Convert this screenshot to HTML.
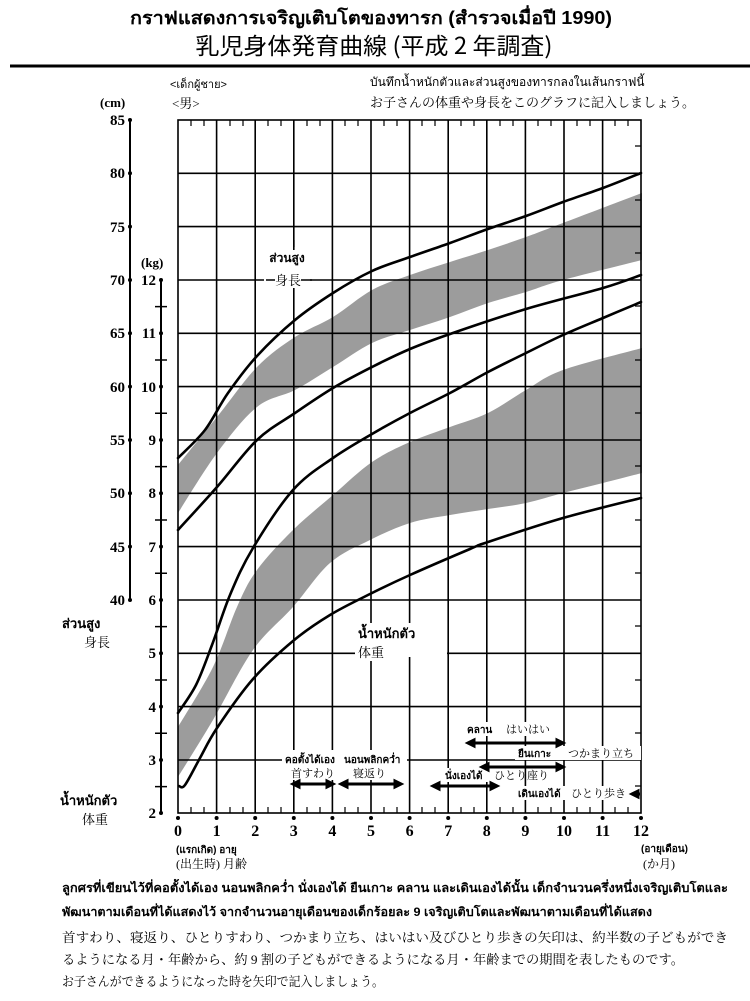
<!DOCTYPE html>
<html><head><meta charset="utf-8"><style>
body{margin:0;background:#fff;width:750px;height:1001px;overflow:hidden}
svg{display:block}
.th{font-family:"Liberation Sans","Noto Sans CJK JP",sans-serif}
.jp{font-family:"Liberation Serif","Noto Serif CJK SC",serif}
</style></head><body>
<svg id="cv" width="750" height="1001" viewBox="0 0 750 1001" xmlns="http://www.w3.org/2000/svg">
<text x="371" y="24" text-anchor="middle" class="th" font-size="18" font-weight="bold" textLength="482" lengthAdjust="spacingAndGlyphs">กราฟแสดงการเจริญเติบโตของทารก (สำรวจเมื่อปี 1990)</text>
<text x="374" y="54" text-anchor="middle" font-family="Noto Sans CJK JP,sans-serif" font-size="23" textLength="357" lengthAdjust="spacingAndGlyphs">乳児身体発育曲線 (平成 2 年調査)</text>
<line x1="10" y1="66" x2="750" y2="66" stroke="#000" stroke-width="3"/>
<text x="170" y="88" class="th" font-size="11">&lt;เด็กผู้ชาย&gt;</text>
<text x="172" y="108" class="jp" font-size="13">&lt;男&gt;</text>
<text x="370" y="86" class="th" font-size="12">บันทึกน้ำหนักตัวและส่วนสูงของทารกลงในเส้นกราฟนี้</text>
<text x="370" y="107" class="jp" font-size="13">お子さんの体重や身長をこのグラフに記入しましょう。</text>
<text x="100" y="107" class="jp" font-size="13" font-weight="bold">(cm)</text>
<text x="141" y="267" class="jp" font-size="13" font-weight="bold">(kg)</text>

<!-- bands -->
<polygon class="s" fill="#9c9c9c" points="178,465 217,417 257,367 295,337 333,317 372,290 410,275 450,262 488,250 526,237 563,223 642,193 642,260 563,280 526,292 488,303 450,317 410,330 372,343 333,367 295,390 257,407 217,453 178,513"/>
<polygon class="s" fill="#9c9c9c" points="178,727 213,667 237,607 257,570 293,530 333,495 372,462 410,442 450,427 488,413 526,390 563,370 642,348 642,473 603,483 563,493 526,503 488,509 450,515 410,523 370,540 330,563 293,607 253,650 213,720 178,777"/>

<!-- grid -->
<g stroke="#000" stroke-width="1.6" fill="none">
<rect x="178" y="120" width="463" height="693"/>
<path d="M216.6 120V813M255.2 120V813M293.8 120V813M332.4 120V813M371 120V813M409.6 120V813M448.2 120V813M486.8 120V813M525.4 120V813M564 120V813M602.6 120V813"/>
<path d="M178 173.3H641M178 226.6H641M178 280H641M178 333.3H641M178 386.6H641M178 440H641M178 493.3H641M178 546.6H641M178 600H641M178 653.3H641M178 706.6H641M178 760H641"/>
</g>
<g stroke="#000" stroke-width="1.2">
<path d="M191 120v6M204 120v6M230 120v6M243 120v6M268 120v6M281 120v6M307 120v6M320 120v6M345 120v6M358 120v6M384 120v6M397 120v6M422 120v6M435 120v6M461 120v6M474 120v6M500 120v6M513 120v6M538 120v6M551 120v6M577 120v6M590 120v6M615 120v6M628 120v6"/>
<path d="M191 813v-6M204 813v-6M230 813v-6M243 813v-6M268 813v-6M281 813v-6M307 813v-6M320 813v-6M345 813v-6M358 813v-6M384 813v-6M397 813v-6M422 813v-6M435 813v-6M461 813v-6M474 813v-6M500 813v-6M513 813v-6M538 813v-6M551 813v-6M577 813v-6M590 813v-6M615 813v-6M628 813v-6"/>
<path d="M641 146h-6M641 200h-6M641 253h-6M641 306h-6M641 360h-6M641 413h-6M641 466h-6M641 520h-6M641 573h-6M641 626h-6M641 680h-6M641 733h-6M641 786h-6"/>
</g>

<!-- curves -->
<g stroke="#000" stroke-width="2.6" fill="none" stroke-linejoin="round" stroke-linecap="round">
<polyline class="s" points="178,458 205,430 228,393 257,356 295,320 333,293 372,271 410,257 450,243 488,229 526,216 563,202 603,188 641,173"/>
<polyline class="s" points="178,530 217,487 257,440 295,413 333,388 372,367 410,349 450,334 526,309 603,288 641,275"/>
<polyline class="s" points="178,713 196,685 212,645 230,595 253,548 293,490 333,458 372,434 410,413 450,393 488,372 526,353 563,335 603,318 641,302"/>
<polyline class="s" points="179,786 185,785 200,758 217,728 253,679 293,641 330,615 370,594 410,575 470,549 488,542 563,518 641,498"/>
</g>

<!-- curve labels -->
<rect x="264" y="247" width="46" height="38" fill="#fff"/>
<line x1="293.8" y1="240" x2="293.8" y2="250" stroke="#000" stroke-width="1.6"/>
<text x="287" y="262" text-anchor="middle" class="th" font-size="12" font-weight="bold">ส่วนสูง</text>
<line x1="266" y1="280" x2="312" y2="280" stroke="#000" stroke-width="1.6"/>
<rect x="275" y="272" width="26" height="16" fill="#fff"/>
<text x="288" y="285" text-anchor="middle" class="jp" font-size="13">身長</text>

<rect x="355" y="623" width="92" height="34" fill="#fff"/>
<text x="358" y="638" class="th" font-size="13" font-weight="bold">น้ำหนักตัว</text>
<rect x="358" y="645" width="40" height="16" fill="#fff"/>
<text x="358" y="657" class="jp" font-size="13">体重</text>

<!-- milestones -->
<g fill="#fff">
<rect x="282" y="750" width="125" height="30"/>
<rect x="432" y="768" width="64" height="14"/>
<rect x="465" y="722" width="90" height="14"/>
<rect x="515" y="746" width="126" height="14"/>
<rect x="515" y="786" width="120" height="14"/>
</g>
<g class="th" font-size="10" font-weight="bold">
<text x="285" y="763">คอตั้งได้เอง</text>
<text x="344" y="763">นอนพลิกคว่ำ</text>
<text x="445" y="779">นั่งเองได้</text>
<text x="467" y="733">คลาน</text>
<text x="518" y="757">ยืนเกาะ</text>
<text x="518" y="797">เดินเองได้</text>
</g>
<g class="jp" font-size="11">
<text x="291" y="777">首すわり</text>
<text x="353" y="777">寝返り</text>
<text x="494" y="779">ひとり座り</text>
<text x="506" y="733">はいはい</text>
<text x="568" y="757">つかまり立ち</text>
<text x="571" y="797">ひとり歩き</text>
</g>
<g stroke="#000" stroke-width="3" fill="#000">
<line x1="297" y1="784" x2="329" y2="784"/><path d="M293 784l6-3v6zM333 784l-6-3v6z"/>
<line x1="345" y1="784" x2="397" y2="784"/><path d="M341 784l6-3v6zM401 784l-6-3v6z"/>
<line x1="437" y1="786" x2="493" y2="786"/><path d="M433 786l6-3v6zM497 786l-6-3v6z"/>
<line x1="472" y1="743" x2="559" y2="743"/><path d="M468 743l6-3v6zM563 743l-6-3v6z"/>
<line x1="486" y1="767" x2="559" y2="767"/><path d="M482 767l6-3v6zM563 767l-6-3v6z"/>
<line x1="634" y1="794" x2="640" y2="794"/><path d="M632 794l6-3v6z"/>
</g>

<!-- left axes -->
<g stroke="#000" stroke-width="2">
<line x1="130" y1="120" x2="130" y2="600"/>
<line x1="161" y1="280" x2="161" y2="813"/>
<path d="M155 306.6h12M155 360h12M155 413.3h12M155 466.6h12M155 520h12M155 573.3h12M155 626.6h12M155 680h12M155 733.3h12M155 786.6h12" stroke-width="1.5"/>
</g>
<g fill="#000">
<circle cx="130" cy="120" r="2"/><circle cx="130" cy="173.3" r="2"/><circle cx="130" cy="226.6" r="2"/><circle cx="130" cy="280" r="2"/><circle cx="130" cy="333.3" r="2"/><circle cx="130" cy="386.6" r="2"/><circle cx="130" cy="440" r="2"/><circle cx="130" cy="493.3" r="2"/><circle cx="130" cy="546.6" r="2"/><circle cx="130" cy="600" r="2"/>
<circle cx="161" cy="280" r="2"/><circle cx="161" cy="333.3" r="2"/><circle cx="161" cy="386.6" r="2"/><circle cx="161" cy="440" r="2"/><circle cx="161" cy="493.3" r="2"/><circle cx="161" cy="546.6" r="2"/><circle cx="161" cy="600" r="2"/><circle cx="161" cy="653.3" r="2"/><circle cx="161" cy="706.6" r="2"/><circle cx="161" cy="760" r="2"/><circle cx="161" cy="813" r="2"/>
</g>
<g class="jp" font-size="15" font-weight="bold" text-anchor="end">
<text x="125" y="125">85</text><text x="125" y="178">80</text><text x="125" y="232">75</text><text x="125" y="285">70</text><text x="125" y="338">65</text><text x="125" y="392">60</text><text x="125" y="445">55</text><text x="125" y="498">50</text><text x="125" y="552">45</text><text x="125" y="605">40</text>
<text x="156" y="285">12</text><text x="156" y="338">11</text><text x="156" y="392">10</text><text x="156" y="445">9</text><text x="156" y="498">8</text><text x="156" y="552">7</text><text x="156" y="605">6</text><text x="156" y="658">5</text><text x="156" y="712">4</text><text x="156" y="765">3</text><text x="156" y="818">2</text>
</g>
<text x="62" y="628" class="th" font-size="13" font-weight="bold">ส่วนสูง</text>
<text x="84" y="647" class="jp" font-size="13">身長</text>
<text x="60" y="805" class="th" font-size="13" font-weight="bold">น้ำหนักตัว</text>
<text x="82" y="824" class="jp" font-size="13">体重</text>

<!-- month axis -->
<g fill="#000">
<circle cx="178" cy="818" r="2"/><circle cx="216.6" cy="818" r="2"/><circle cx="255.2" cy="818" r="2"/><circle cx="293.8" cy="818" r="2"/><circle cx="332.4" cy="818" r="2"/><circle cx="371" cy="818" r="2"/><circle cx="409.6" cy="818" r="2"/><circle cx="448.2" cy="818" r="2"/><circle cx="486.8" cy="818" r="2"/><circle cx="525.4" cy="818" r="2"/><circle cx="564" cy="818" r="2"/><circle cx="602.6" cy="818" r="2"/><circle cx="641" cy="818" r="2"/>
</g>
<g class="jp" font-size="16" font-weight="bold" text-anchor="middle">
<text x="178" y="836">0</text><text x="216.6" y="836">1</text><text x="255.2" y="836">2</text><text x="293.8" y="836">3</text><text x="332.4" y="836">4</text><text x="371" y="836">5</text><text x="409.6" y="836">6</text><text x="448.2" y="836">7</text><text x="486.8" y="836">8</text><text x="525.4" y="836">9</text><text x="564" y="836">10</text><text x="602.6" y="836">11</text><text x="641" y="836">12</text>
</g>
<text x="176" y="853" class="th" font-size="10" font-weight="bold">(แรกเกิด) อายุ</text>
<text x="176" y="868" class="jp" font-size="12">(出生時) 月齢</text>
<text x="641" y="852" class="th" font-size="10" font-weight="bold">(อายุเดือน)</text>
<text x="643" y="868" class="jp" font-size="12">(か月)</text>

<!-- footer -->
<g class="th" font-size="12" font-weight="bold">
<text x="62" y="892" textLength="666" lengthAdjust="spacingAndGlyphs">ลูกศรที่เขียนไว้ที่คอตั้งได้เอง นอนพลิกคว่ำ นั่งเองได้ ยืนเกาะ คลาน และเดินเองได้นั้น เด็กจำนวนครึ่งหนึ่งเจริญเติบโตและ</text>
<text x="62" y="916" textLength="590" lengthAdjust="spacingAndGlyphs">พัฒนาตามเดือนที่ได้แสดงไว้ จากจำนวนอายุเดือนของเด็กร้อยละ 9 เจริญเติบโตและพัฒนาตามเดือนที่ได้แสดง</text>
</g>
<g class="jp" font-size="13">
<text x="62" y="942" textLength="666" lengthAdjust="spacingAndGlyphs">首すわり、寝返り、ひとりすわり、つかまり立ち、はいはい及びひとり歩きの矢印は、約半数の子どもができ</text>
<text x="62" y="964" textLength="622" lengthAdjust="spacingAndGlyphs">るようになる月・年齢から、約 9 割の子どもができるようになる月・年齢までの期間を表したものです。</text>
<text x="62" y="986" textLength="322" lengthAdjust="spacingAndGlyphs">お子さんができるようになった時を矢印で記入しましょう。</text>
</g>
</svg>
<script>
(function(){
var ns="http://www.w3.org/2000/svg";
function seg(p){var d="M"+p[0][0]+" "+p[0][1];
for(var i=0;i<p.length-1;i++){var p0=p[i-1]||p[i],p1=p[i],p2=p[i+1],p3=p[i+2]||p2;
d+="C"+(p1[0]+(p2[0]-p0[0])/6).toFixed(1)+" "+(p1[1]+(p2[1]-p0[1])/6).toFixed(1)+" "+(p2[0]-(p3[0]-p1[0])/6).toFixed(1)+" "+(p2[1]-(p3[1]-p1[1])/6).toFixed(1)+" "+p2[0]+" "+p2[1];}
return d;}
function pts(el){return el.getAttribute("points").trim().split(/\s+/).map(function(s){return s.split(",").map(Number);});}
var els=document.querySelectorAll(".s");
for(var k=0;k<els.length;k++){var el=els[k],p=pts(el),d;
if(el.tagName.toLowerCase()=="polygon"){var h=p.length/2,a=p.slice(0,h),b=p.slice(h);
d=seg(a)+"L"+b[0][0]+" "+b[0][1]+seg(b).replace(/^M[^C]*/,"")+"Z";}
else d=seg(p);
var n=document.createElementNS(ns,"path");n.setAttribute("d",d);
if(el.getAttribute("fill"))n.setAttribute("fill",el.getAttribute("fill"));
el.parentNode.replaceChild(n,el);}
})();
</script>
</body></html>
